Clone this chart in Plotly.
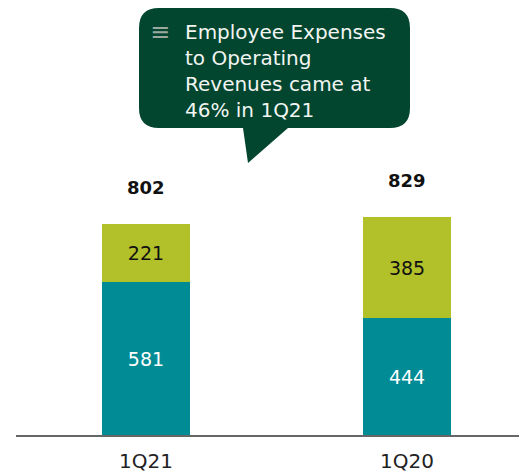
import plotly.graph_objects as go

# data
categories = ["1Q21", "1Q20"]
bottom_values = [581, 444]
top_values = [221, 385]
totals = [802, 829]
callout_lines = ["Employee Expenses", "to Operating", "Revenues came at", "46% in 1Q21"]

TEAL = "#008b95"
LIME = "#b2c02a"
CALLOUT = "#03462f"
FONT = "DejaVu Sans"

W, H = 519, 473
ML, MB = 16, 38
x_pos = [0, 1]


def px(x):
    return (x - ML) / (W - ML)


def py(y):
    return (H - MB - y) / (H - MB)


fig = go.Figure()
fig.add_trace(go.Bar(
    x=x_pos, y=bottom_values, width=0.337, marker=dict(color=TEAL, line=dict(width=0)),
    text=[str(v) for v in bottom_values], textposition="inside", insidetextanchor="middle",
    textfont=dict(color="white", size=19, family=FONT), textangle=0,
))
fig.add_trace(go.Bar(
    x=x_pos, y=top_values, width=0.337, marker=dict(color=LIME, line=dict(width=0)),
    text=[str(v) for v in top_values], textposition="inside", insidetextanchor="middle",
    textfont=dict(color="#111111", size=19, family=FONT), textangle=0,
))

for i, t in enumerate(totals):
    fig.add_annotation(x=x_pos[i], y=t, text="<b>%d</b>" % t, showarrow=False,
                       yanchor="bottom", yshift=24, font=dict(size=18, color="#111111", family=FONT))

# speech bubble
x0, x1, y0, y1, r = 139, 410, 8, 128, 20
pts = [
    "M %f,%f" % (px(x0 + r), py(y0)),
    "L %f,%f" % (px(x1 - r), py(y0)),
    "Q %f,%f %f,%f" % (px(x1), py(y0), px(x1), py(y0 + r)),
    "L %f,%f" % (px(x1), py(y1 - r)),
    "Q %f,%f %f,%f" % (px(x1), py(y1), px(x1 - r), py(y1)),
    "L %f,%f" % (px(288), py(y1)),
    "L %f,%f" % (px(248), py(163)),
    "L %f,%f" % (px(243), py(y1)),
    "L %f,%f" % (px(x0 + r), py(y1)),
    "Q %f,%f %f,%f" % (px(x0), py(y1), px(x0), py(y1 - r)),
    "L %f,%f" % (px(x0), py(y0 + r)),
    "Q %f,%f %f,%f" % (px(x0), py(y0), px(x0 + r), py(y0)),
    "Z",
]
fig.add_shape(type="path", path=" ".join(pts), xref="paper", yref="paper",
              fillcolor=CALLOUT, line=dict(width=0), layer="above")
fig.add_annotation(x=px(183), y=py(18), xref="paper", yref="paper", xanchor="left", yanchor="top",
                   text="<br>".join(callout_lines), showarrow=False, align="left",
                   font=dict(size=20, color="#f2f5f2", family=FONT))
fig.add_annotation(x=px(148), y=py(16), xref="paper", yref="paper", xanchor="left", yanchor="top",
                   text="≡", showarrow=False,
                   font=dict(size=24, color="#9aa8a0", family=FONT))

fig.update_layout(
    barmode="stack", width=W, height=H, showlegend=False,
    margin=dict(l=ML, r=0, t=0, b=MB),
    paper_bgcolor="white", plot_bgcolor="white",
    xaxis=dict(range=[-0.498, 1.429], tickvals=x_pos, ticktext=categories, showgrid=False,
               zeroline=False, showline=True, linecolor="#666666", linewidth=2, ticks="",
               automargin=False, ticklabelstandoff=7,
               tickfont=dict(size=20, color="#222222", family=FONT)),
    yaxis=dict(range=[0, 1654], visible=False, automargin=False),
)

# page body has an 8px default margin; drop it so the figure fills the window
fig.write_html("out.html", config={"displayModeBar": False},
               post_script="document.body.style.margin='0';")
